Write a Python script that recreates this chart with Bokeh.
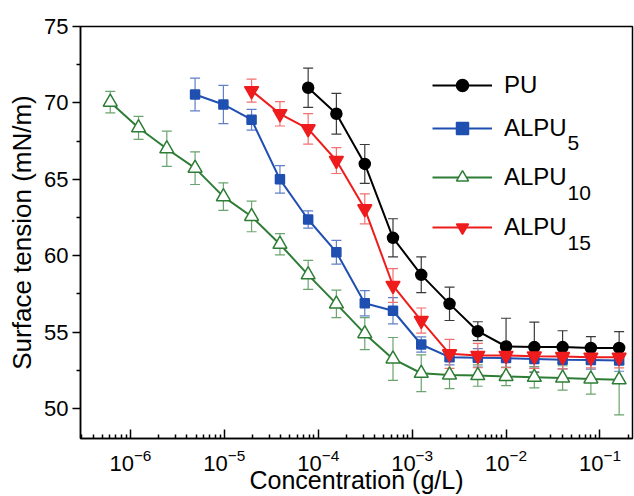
from bokeh.plotting import figure
from bokeh.models import (Range1d, FixedTicker, LogTickFormatter, Whisker, TeeHead,
                          ColumnDataSource, Legend, LegendItem, Label)
from bokeh.embed import file_html
from bokeh.resources import INLINE

# ---------------- data ----------------
conc_pu = [7.81e-5, 1.56e-4, 3.13e-4, 6.25e-4, 1.25e-3, 2.5e-3, 5e-3, 1e-2, 2e-2, 4e-2, 8e-2, 0.16]
st_pu = [70.99, 69.29, 66.01, 61.17, 58.75, 56.85, 55.06, 54.06, 54.02, 54.02, 53.97, 53.97]
err_pu = [1.28, 1.33, 1.27, 1.25, 1.17, 1.09, 0.62, 1.85, 1.64, 1.07, 0.74, 1.06]

conc_a5 = [4.88e-6, 9.77e-6, 1.95e-5, 3.91e-5, 7.81e-5, 1.56e-4, 3.13e-4, 6.25e-4,
           1.25e-3, 2.5e-3, 5e-3, 1e-2, 2e-2, 4e-2, 8e-2, 0.16]
st_a5 = [70.55, 69.9, 68.9, 65.0, 62.37, 60.23, 56.89, 56.4, 54.19, 53.36, 53.32, 53.3,
         53.25, 53.2, 53.18, 53.14]
err_a5 = [1.07, 1.25, 0.68, 0.9, 0.57, 0.78, 0.82, 0.86, 0.5, 0.5, 0.6, 0.6, 0.6, 0.6, 0.6, 0.7]

conc_a10 = [6.1e-7, 1.22e-6, 2.44e-6, 4.88e-6, 9.77e-6, 1.95e-5, 3.91e-5, 7.81e-5, 1.56e-4,
            3.13e-4, 6.25e-4, 1.25e-3, 2.5e-3, 5e-3, 1e-2, 2e-2, 4e-2, 8e-2, 0.16]
st_a10 = [70.05, 68.37, 67.0, 65.73, 63.87, 62.57, 60.75, 58.75, 56.85, 54.9, 53.25, 52.31,
          52.2, 52.16, 52.1, 52.05, 52.0, 51.94, 51.88]
err_a10 = [0.7, 0.75, 1.15, 1.07, 0.9, 1.0, 0.7, 0.95, 0.9, 1.05, 1.4, 1.2, 0.9, 0.7, 0.6,
           0.7, 0.8, 1.0, 2.3]

conc_a15 = [1.95e-5, 3.91e-5, 7.81e-5, 1.56e-4, 3.13e-4, 6.25e-4, 1.25e-3, 2.5e-3, 5e-3,
            1e-2, 2e-2, 4e-2, 8e-2, 0.16]
st_a15 = [70.8, 69.29, 68.3, 66.23, 63.07, 58.05, 55.76, 53.58, 53.47, 53.47, 53.43, 53.4,
          53.36, 53.36]
err_a15 = [0.75, 0.8, 1.0, 0.85, 0.98, 1.1, 0.82, 0.95, 0.8, 0.8, 0.8, 0.8, 0.7, 0.7]

x_major = [1e-6, 1e-5, 1e-4, 1e-3, 1e-2, 1e-1]
y_major = [50, 55, 60, 65, 70, 75]
y_minor = [52.5, 57.5, 62.5, 67.5, 72.5]

FONT = "Liberation Sans"

p = figure(width=634, height=496, x_axis_type="log", output_backend="svg",
           toolbar_location=None,
           x_range=Range1d(2.94e-7, 0.222), y_range=Range1d(48.04, 75),
           min_border_left=80, min_border_right=2, min_border_top=26, min_border_bottom=58)

p.xgrid.visible = False
p.ygrid.visible = False
p.outline_line_color = "black"
p.outline_line_width = 1.5
p.background_fill_color = "white"
p.border_fill_color = "white"

# axes
x_minor = [k * 10.0 ** d for d in range(-7, 0) for k in range(2, 10)]
p.xaxis.ticker = FixedTicker(ticks=x_major, minor_ticks=x_minor)
p.xaxis.formatter = LogTickFormatter()
p.yaxis.ticker = FixedTicker(ticks=y_major, minor_ticks=y_minor)

for ax in (p.xaxis[0], p.yaxis[0]):
    ax.axis_line_width = 1.5
    ax.major_tick_line_width = 1.5
    ax.minor_tick_line_width = 1.5
    ax.axis_line_color = "black"
    ax.major_tick_line_color = "black"
    ax.minor_tick_line_color = "black"
    ax.major_label_text_font = FONT
    ax.major_label_text_font_size = "22px"
    ax.major_label_text_color = "black"
    ax.axis_label_text_font = FONT
    ax.axis_label_text_font_style = "normal"
    ax.axis_label_text_color = "black"

p.xaxis.axis_label_text_font_size = "25px"
p.yaxis.axis_label_text_font_size = "26px"

p.xaxis.major_tick_in = 9
p.xaxis.major_tick_out = 0
p.xaxis.minor_tick_in = 4
p.xaxis.minor_tick_out = 0
p.xaxis.major_label_standoff = 10
p.xaxis.axis_label_standoff = -8
p.xaxis.axis_label = "Concentration (g/L)"

p.yaxis.major_tick_in = 0
p.yaxis.major_tick_out = 8
p.yaxis.minor_tick_in = 0
p.yaxis.minor_tick_out = 4
p.yaxis.major_label_standoff = 4
p.yaxis.axis_label_standoff = 4
p.yaxis.axis_label = "Surface tension (mN/m)"

series = [
    ("PU", conc_pu, st_pu, err_pu, "#000000", "#3a3a3a", "circle", 11, "#000000"),
    ("ALPU", conc_a5, st_a5, err_a5, "#1f4fb0", "#5f7fc8", "square", 9, "#1f4fb0"),
    ("ALPU", conc_a10, st_a10, err_a10, "#2e7d36", "#6aa46e", "triangle", 14, "white"),
    ("ALPU", conc_a15, st_a15, err_a15, "#ee1c1c", "#f27070", "inverted_triangle", 14, "#ee1c1c"),
]

handles = []
for name, xs, ys, es, col, ecol, mk, sz, fill in series:
    src = ColumnDataSource(dict(x=xs, y=ys,
                                upper=[v + e for v, e in zip(ys, es)],
                                lower=[v - e for v, e in zip(ys, es)]))
    lr = p.line("x", "y", source=src, line_color=col, line_width=2)
    w = Whisker(base="x", upper="upper", lower="lower", source=src,
                line_color=ecol, line_width=1.2,
                upper_head=TeeHead(size=10, line_color=ecol, line_width=1.2),
                lower_head=TeeHead(size=10, line_color=ecol, line_width=1.2))
    p.add_layout(w)
    sr = p.scatter("x", "y", source=src, marker=mk, size=sz, fill_color=fill,
                   line_color=col, line_width=1.5)
    handles.append((name, lr, sr))

# legend: one row per Legend so that row positions can follow the original
row_y = [338, 295, 246, 196]
for (name, lr, sr), yy in zip(handles, row_y):
    lg = Legend(items=[LegendItem(label=name, renderers=[lr, sr])], location=(352, yy),
                border_line_color=None, background_fill_alpha=0, padding=0, margin=0,
                spacing=0, glyph_width=60, glyph_height=30, label_height=30,
                label_standoff=12, label_text_font=FONT, label_text_font_size="24px",
                label_text_color="black")
    p.add_layout(lg)

subs = ["5", "10", "15"]
sub_y = [296, 246, 196]
for s, yy in zip(subs, sub_y):
    p.add_layout(Label(x=487, y=yy, x_units="screen", y_units="screen", text=s,
                       text_font=FONT, text_font_size="21px", text_color="black",
                       text_baseline="alphabetic"))

open("out.html", "w").write(file_html(p, INLINE))
